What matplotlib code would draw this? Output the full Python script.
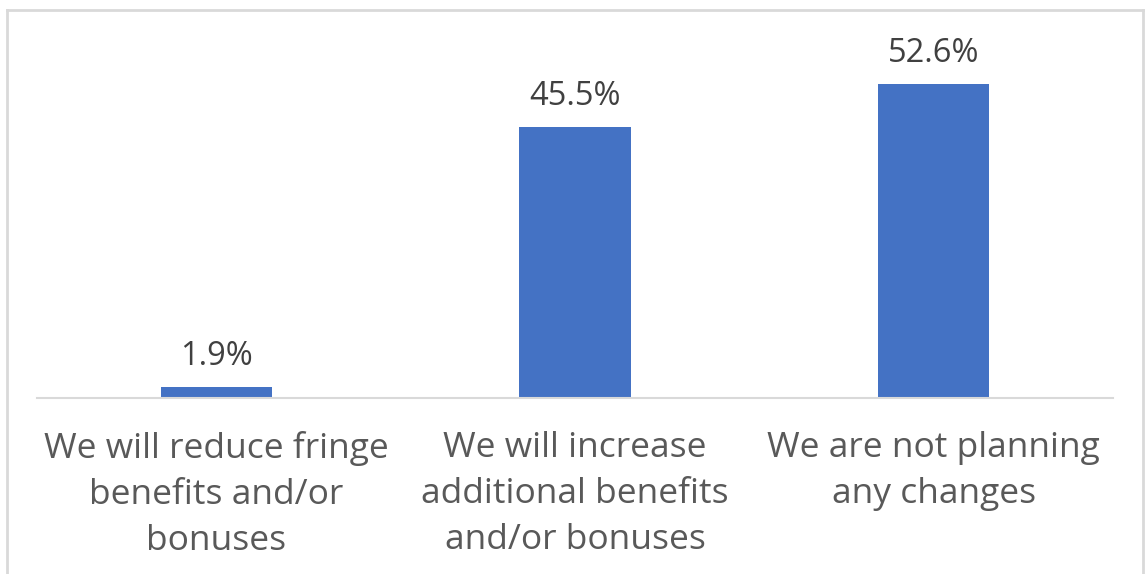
import matplotlib
matplotlib.use('Agg')
import matplotlib.pyplot as plt
from matplotlib.lines import Line2D

categories = ['We will reduce fringe\nbenefits and/or\nbonuses',
              'We will increase\nadditional benefits\nand/or bonuses',
              'We are not planning\nany changes']
values = [1.9, 45.5, 52.6]
value_labels = ['1.9%', '45.5%', '52.6%']

plt.rcParams['font.family'] = ['Open Sans', 'DejaVu Sans']

fig = plt.figure(figsize=(11.48, 5.74), dpi=100)
ax = fig.add_axes([37/1148, 176/574, 1076/1148, 358/574])

x = range(len(categories))
bars = ax.bar(x, values, width=0.31, color='#4472C4')
for b, lab in zip(bars, value_labels):
    ax.text(b.get_x() + b.get_width()/2, b.get_height() + 2.3, lab,
            ha='center', va='bottom', fontsize=23.5, color='#404040')

ax.set_xlim(-0.5, 2.5)
ax.set_ylim(0, 60)
ax.set_xticks(list(x))
ax.set_xticklabels(categories, fontsize=25.5, color='#595959', linespacing=1.45)
ax.tick_params(axis='x', length=0, pad=24)
ax.set_yticks([])
for s in ['top', 'right', 'left']:
    ax.spines[s].set_visible(False)
ax.spines['bottom'].set_color('#D9D9D9')
ax.spines['bottom'].set_linewidth(1.5)

# outer chart frame (open at bottom)
W, H = 1148, 574
fr = dict(color='#D9D9D9', lw=2, transform=fig.transFigure)
fig.add_artist(Line2D([7/W, 7/W], [0, 1 - 10/H], **fr))
fig.add_artist(Line2D([7/W, 1143/W], [1 - 10/H, 1 - 10/H], **fr))
fig.add_artist(Line2D([1143/W, 1143/W], [0, 1 - 10/H], **fr))

fig.savefig('out.png', dpi=100)
